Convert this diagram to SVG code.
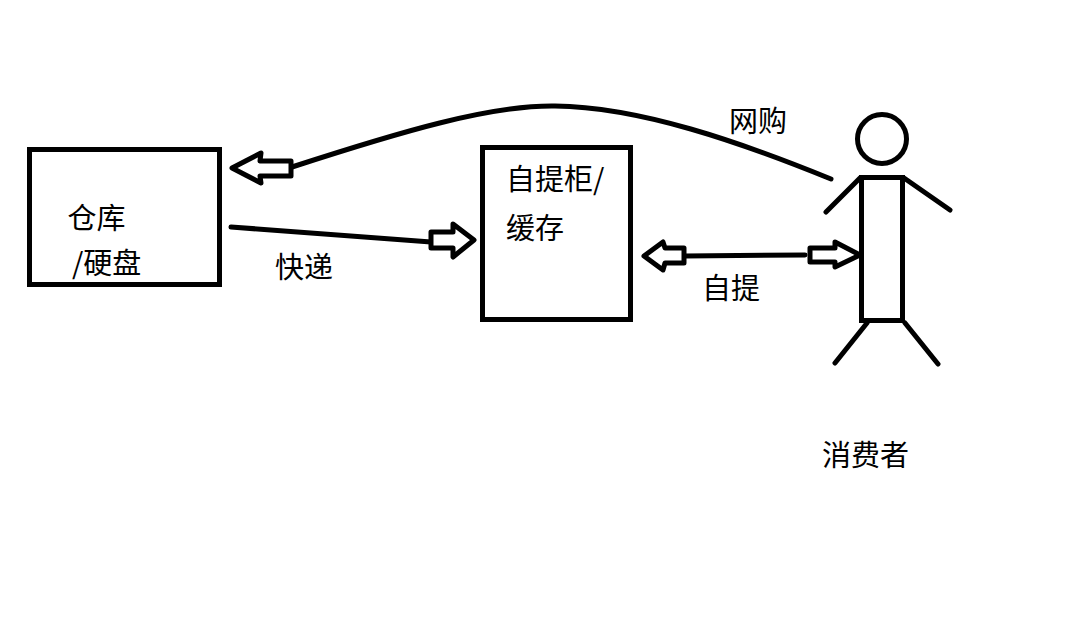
<svg xmlns="http://www.w3.org/2000/svg" width="1089" height="640" viewBox="0 0 1089 640">
<style>
.s{fill:none;stroke:#000;stroke-width:5;stroke-linecap:round;stroke-linejoin:miter}
.h{fill:#fff;stroke:#000;stroke-width:5;stroke-linejoin:round}
.b{fill:#fff;stroke:#000;stroke-width:5}
text{font-family:"Noto Sans CJK SC","Noto Sans",sans-serif;font-size:29px;fill:#000}
</style>
<rect width="1089" height="640" fill="#fff"/>
<g id="warehouse">
<rect class="b" x="29.5" y="149.5" width="190" height="135"/>
<text x="67.500" y="229">仓库</text>
<text x="72" y="274">/硬盘</text>
</g>
<g id="locker">
<rect class="b" x="482.5" y="147.5" width="148" height="172"/>
<text x="506" y="190">自提柜/</text>
<text x="506" y="239">缓存</text>
</g>
<g id="consumer">
<circle class="s" cx="882" cy="139" r="24.5"/>
<rect class="b" x="861.5" y="177.500" width="41" height="143"/>
<path class="s" d="M860 178L826 212M904 178L950 210M867 323L835 363M905 323L938 364"/>
<text x="822" y="466">消费者</text>
</g>
<g id="connectors">
<path class="s" d="M292 167C400 132 490 105 555 106C640 107 740 142 831 179"/>
<path class="h" d="M232 168L261 153L260 161L291 161L291 176L260 176L261 183Z"/>
<path class="s" d="M231 227L431 242"/>
<path class="h" d="M431 232L453 232L453 224L474 240L453 257L453 248L431 248Z"/>
<path class="s" d="M685 256L805 255"/>
<path class="h" d="M644 256L663 242L665 248L684 248L684 263L665 263L663 270Z"/>
<path class="h" d="M810 248L835 248L835 242L860 255L835 267L835 262L810 262Z"/>
<text x="729" y="132">网购</text>
<text x="275" y="278">快递</text>
<text x="702" y="299">自提</text>
</g>
</svg>
